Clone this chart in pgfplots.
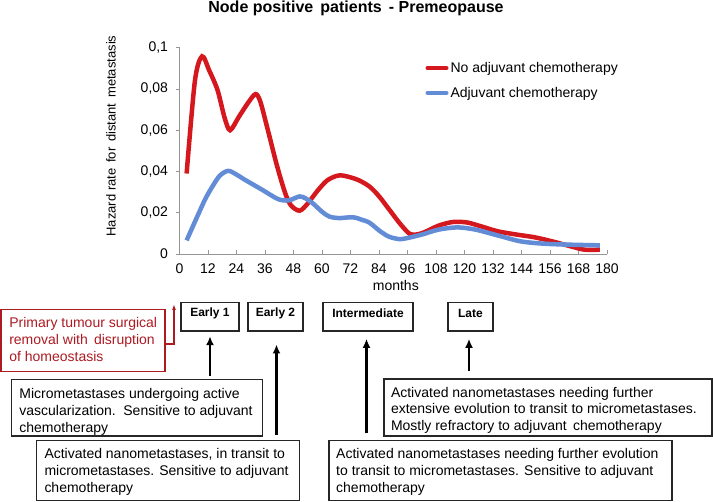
\documentclass[border=0pt]{standalone}
\usepackage{pgfplots}
\pgfplotsset{compat=1.18}
\usepackage{fontspec}
\setmainfont{Liberation Sans}
\usetikzlibrary{arrows.meta}

\definecolor{redline}{RGB}{212,24,30}
\definecolor{blueline}{RGB}{98,140,214}
\definecolor{darkred}{RGB}{172,26,34}
\definecolor{axisgray}{RGB}{150,150,150}

\newcommand{\fs}[2]{\fontsize{#1}{#2}\selectfont}

\begin{document}
\begin{tikzpicture}[x=1pt,y=-1pt]
\path (0,0) rectangle (713,502);

% title
\node[font=\fs{16}{18}\bfseries, inner sep=0pt] at (356,8.5) {Node positive\, patients\, - Premeopause};

\begin{axis}[
  at={(179.5pt,-254pt)}, anchor=south west,
  scale only axis, width=427.5pt, height=206.3pt,
  xmin=0, xmax=180, ymin=0, ymax=0.1,
  axis x line*=bottom, axis y line*=left,
  axis line style={axisgray, line width=0.9pt},
  xtick={0,12,...,180},
  ytick={0,0.02,0.04,0.06,0.08,0.1},
  yticklabels={0,{0,02},{0,04},{0,06},{0,08},{0,1}},
  /pgf/number format/assume math mode=true,
  tick style={axisgray, line width=0.9pt},
  major tick length=4pt,
  tick align=outside,
  x tick style={yshift=4pt},
  ticklabel style={font=\fs{14}{16}},
  xticklabel style={yshift=-2pt},
  yticklabel style={xshift=-4pt},
  xlabel={months},
  xlabel style={font=\fs{14}{16}, at={(axis description cs:0.506,-0.155)}, anchor=center},
  ylabel={Hazard rate\, for\, distant\, metastasis},
  ylabel style={font=\fs{13}{15}, at={(axis description cs:-0.16,0.572)}, anchor=center},
  legend style={at={(0.575,0.94)}, anchor=north west, draw=none, fill=none,
    font=\fs{14}{16}, row sep=9pt, inner sep=0pt,
    /tikz/every even column/.append style={column sep=1pt}},
  legend image code/.code={\draw[#1, line width=4pt, line cap=round] (0pt,0pt) -- (19pt,0pt);},
  legend cell align=left,
]
\addplot[redline, line width=4.5pt, smooth, tension=0.5] coordinates {
(3,0.039) (6.5,0.084) (9.5,0.0958) (12.5,0.089) (16,0.0795) (19,0.066)
(21.3,0.0600) (25,0.0665) (29,0.0735) (32,0.0775) (34,0.074) (37,0.061)
(41,0.043) (44.5,0.0295) (47,0.0235) (50.6,0.021) (54,0.0245) (58,0.0305)
(62,0.0355) (66,0.0378) (69,0.038) (75,0.036) (80,0.0327) (84,0.028)
(88,0.022) (93,0.0145) (97,0.0097) (100,0.0095) (103,0.0105) (109,0.0137)
(115,0.0155) (121,0.0153) (127,0.0134) (134,0.011) (142,0.0094) (149.5,0.0081)
(157,0.0061) (164.8,0.0037) (170.5,0.0021) (177,0.0021)
};
\addlegendentry{No adjuvant chemotherapy}
\addplot[blueline, line width=4.5pt, smooth, tension=0.5] coordinates {
(3,0.0066) (8,0.0195) (11,0.027) (14,0.033) (17,0.038) (20.5,0.0403)
(24,0.0385) (27.5,0.036) (35,0.031) (41.5,0.0266) (46,0.026) (50.5,0.0279)
(53,0.027) (56,0.0247) (60,0.0205) (63,0.0182) (67,0.0174) (73,0.0178)
(77,0.0165) (80,0.0152) (84.5,0.011) (88,0.0085) (91,0.0075) (94,0.0073)
(102,0.0094) (109,0.0118) (117,0.0129) (124.7,0.0118) (134.3,0.0089)
(143.8,0.0061) (153.4,0.005) (164.8,0.0045) (177,0.0042)
};
\addlegendentry{Adjuvant chemotherapy}
\end{axis}

% stage boxes
\begin{scope}[line width=1.1pt, draw=black!85]
\draw (181,302.3) rectangle (239,331);
\draw (248,302.3) rectangle (303,331);
\draw (323,302.3) rectangle (413,331);
\draw (448,302.3) rectangle (493,331);
\end{scope}
\begin{scope}[every node/.style={font=\fs{12}{14}\bfseries, inner sep=0pt}]
\node at (210,313.5) {Early 1};
\node at (275.5,313.5) {Early 2};
\node at (368,313.5) {Intermediate};
\node at (470.5,313.5) {Late};
\end{scope}

% red box
\draw[darkred, line width=1.1pt] (1,309.3) rectangle (165,371.7);
\node[darkred, font=\fs{14}{16.7}, align=left, anchor=north west, inner sep=0pt]
  at (9.1,317.3) {Primary tumour surgical\\removal with\, disruption\\of homeostasis};
\draw[darkred, line width=2pt, -{Latex[length=6pt,width=4pt]}] (165,343.8) -- (174,343.8) -- (174,304);

% arrows
\begin{scope}[line width=2.8pt, -{Latex[length=9pt,width=8pt]}]
\draw (210,376) -- (210,336.2);
\draw (276.5,435) -- (276.5,344.5);
\draw (366.5,433.3) -- (366.5,338.8);
\draw (469,371) -- (469,338.8);
\end{scope}

% description boxes
\begin{scope}[line width=1.1pt, draw=black!85]
\draw (11.4,379.3) rectangle (262.8,436);
\draw (36.6,440.7) rectangle (299.4,500.7);
\draw (384,379) rectangle (712,436);
\draw (329,440.7) rectangle (672,500.7);
\end{scope}
\begin{scope}[every node/.style={font=\fs{14}{16.7}, align=left, anchor=north west, inner sep=0pt}]
\node at (19.2,388.3) {Micrometastases undergoing active\\vascularization.\, Sensitive to adjuvant\\chemotherapy};
\node at (44.3,448.3) {Activated nanometastases, in transit to\\micrometastases. Sensitive to adjuvant\\chemotherapy};
\node at (390.8,386.7) {Activated nanometastases needing further\\extensive evolution to transit to micrometastases.\\Mostly refractory to adjuvant\, chemotherapy};
\node at (336,448.3) {Activated nanometastases needing further evolution\\to transit to micrometastases. Sensitive to adjuvant\\chemotherapy};
\end{scope}
\end{tikzpicture}
\end{document}
